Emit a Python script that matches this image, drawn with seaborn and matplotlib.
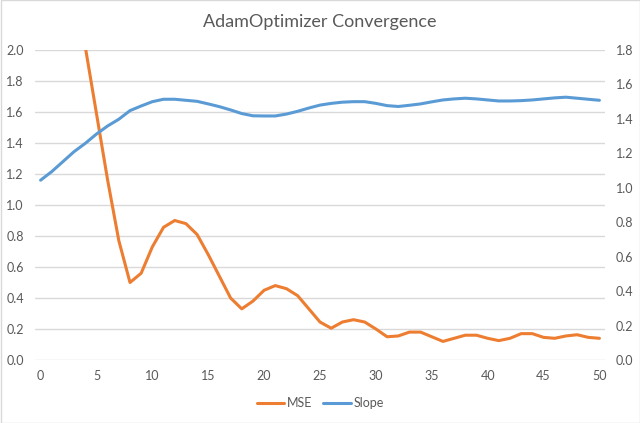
import matplotlib.pyplot as plt
import numpy as np
import pandas as pd
import seaborn as sns
from matplotlib.lines import Line2D
from matplotlib.patches import Rectangle

TITLE = "AdamOptimizer Convergence"
STEPS = list(range(51))

# MSE (left axis) - first values are above the 2.0 limit and get clipped
MSE = [
    12.0, 7.0, 4.5, 2.9, 2.02, 1.59, 1.16, 0.77, 0.50, 0.56,
    0.73, 0.856, 0.90, 0.88, 0.81, 0.68, 0.54, 0.40, 0.33, 0.38,
    0.45, 0.48, 0.46, 0.415, 0.33, 0.245, 0.205, 0.245, 0.26, 0.245,
    0.20, 0.15, 0.155, 0.18, 0.18, 0.15, 0.12, 0.14, 0.16, 0.16,
    0.14, 0.125, 0.14, 0.17, 0.17, 0.146, 0.14, 0.155, 0.163, 0.146,
    0.14,
]

# Slope (right axis)
SLOPE = [
    1.044, 1.094, 1.152, 1.210, 1.258, 1.312, 1.359, 1.398, 1.448, 1.475,
    1.500, 1.514, 1.514, 1.508, 1.502, 1.487, 1.471, 1.452, 1.431, 1.418,
    1.417, 1.417, 1.428, 1.444, 1.463, 1.480, 1.490, 1.497, 1.500, 1.500,
    1.490, 1.477, 1.472, 1.479, 1.487, 1.499, 1.510, 1.516, 1.520, 1.516,
    1.510, 1.504, 1.504, 1.506, 1.510, 1.516, 1.522, 1.526, 1.520, 1.514,
    1.508,
]

ORANGE = "#ED7D31"
BLUE = "#5B9BD5"
TEXT = "#595959"
GRID = "#D9D9D9"

sns.set_theme(style="white")
plt.rcParams["font.family"] = ["Lato", "DejaVu Sans"]

df = pd.DataFrame({"step": STEPS, "MSE": MSE, "Slope": SLOPE})

fig = plt.figure(figsize=(6.4, 4.23), dpi=100)
ax = fig.add_axes([35 / 640, 63 / 423, 570 / 640, 310 / 423])
ax2 = ax.twinx()

sns.lineplot(data=df, x="step", y="MSE", ax=ax, color=ORANGE, linewidth=2.2)
sns.lineplot(data=df, x="step", y="Slope", ax=ax2, color=BLUE, linewidth=2.2)

ax.set_xlim(-0.5, 50.5)
ax.set_ylim(0, 2.0)
ax2.set_ylim(0, 1.8)
ax.set_xticks(np.arange(0, 51, 5))
ax.set_yticks(np.arange(0, 2.01, 0.2))
ax2.set_yticks(np.arange(0, 1.81, 0.2))
ax.set_yticklabels([f"{v:.1f}" for v in np.arange(0, 2.01, 0.2)])
ax2.set_yticklabels([f"{v:.1f}" for v in np.arange(0, 1.81, 0.2)])

for a in (ax, ax2):
    a.set_xlabel("")
    a.set_ylabel("")
    for s in a.spines.values():
        s.set_visible(False)
    a.tick_params(length=0, colors=TEXT, labelsize=9)
ax.tick_params(axis="y", pad=8)
ax2.tick_params(axis="y", pad=8)
ax.tick_params(axis="x", pad=7)

ax.grid(axis="y", color=GRID, linewidth=1)
ax.set_axisbelow(True)

fig.text(0.5, 1 - 22 / 423, TITLE, ha="center", va="center", fontsize=13, color=TEXT)

handles = [
    Line2D([], [], color=ORANGE, linewidth=2.2),
    Line2D([], [], color=BLUE, linewidth=2.2),
]
fig.legend(handles, ["MSE", "Slope"], loc="center", bbox_to_anchor=(0.5, 1 - 403 / 423),
           ncol=2, frameon=False, fontsize=9, labelcolor=TEXT, handlelength=2.2,
           handletextpad=0.2, columnspacing=0.9)

fig.patches.append(Rectangle((0.5 / 640, 0.5 / 423), 639 / 640, 422 / 423,
                             transform=fig.transFigure, fill=False, edgecolor=GRID, linewidth=1))

fig.savefig("out.png", dpi=100)
